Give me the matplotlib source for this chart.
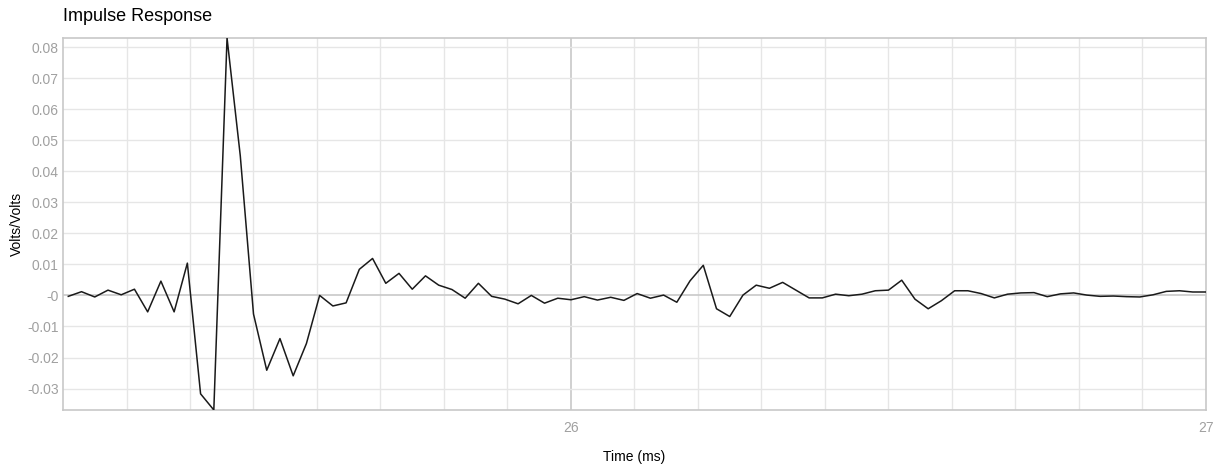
import numpy as np
import matplotlib
matplotlib.use("Agg")
import matplotlib.pyplot as plt

# impulse response samples, 48 kHz, sample 38 falls on 26 ms
fs_khz = 48.0
t_ref = 26.0
i_ref = 38
volts = np.array([
    -0.0003, 0.0012, -0.0005, 0.0017, 0.0002, 0.0020, -0.0053, 0.0046, -0.0053, 0.0104,
    -0.0317, -0.0369, 0.0829, 0.0450, -0.0060, -0.0241, -0.0139, -0.0259, -0.0155, 0.0000,
    -0.0034, -0.0024, 0.0084, 0.0119, 0.0039, 0.0071, 0.0020, 0.0063, 0.0033, 0.0019,
    -0.0009, 0.0039, -0.0003, -0.0012, -0.0027, 0.0000, -0.0025, -0.0009, -0.0014, -0.0004,
    -0.0015, -0.0006, -0.0016, 0.0006, -0.0009, 0.0001, -0.0022, 0.0047, 0.0097, -0.0043,
    -0.0068, 0.0001, 0.0033, 0.0023, 0.0042, 0.0017, -0.0008, -0.0008, 0.0004, -0.0001,
    0.0004, 0.0015, 0.0017, 0.0049, -0.0012, -0.0043, -0.0017, 0.0015, 0.0015, 0.0006,
    -0.0008, 0.0004, 0.0008, 0.0009, -0.0004, 0.0005, 0.0008, 0.0001, -0.0003, -0.0002,
    -0.0004, -0.0005, 0.0002, 0.0013, 0.0015, 0.0011, 0.0011,
])
time_ms = t_ref + (np.arange(len(volts)) - i_ref) / fs_khz

x_major = [26, 27]
x_major_labels = ["26", "27"]
y_ticks = [-0.03, -0.02, -0.01, 0.0, 0.01, 0.02, 0.03, 0.04, 0.05, 0.06, 0.07, 0.08]
y_labels = ["-0.03", "-0.02", "-0.01", "-0", "0.01", "0.02", "0.03", "0.04",
            "0.05", "0.06", "0.07", "0.08"]

plt.rcParams["font.family"] = ["Liberation Sans", "DejaVu Sans"]

fig = plt.figure(figsize=(12.21, 4.70), dpi=100)
ax = fig.add_axes([0.0516, 0.1277, 0.9361, 0.7914])

minor_col = "#e6e6e6"
major_col = "#c8c8c8"

# grid lines
for x in np.arange(25.3, 27.0, 0.1):
    if abs(x - 26) > 1e-6:
        ax.axvline(x, color=minor_col, lw=1, zorder=0)
ax.axvline(26, color=major_col, lw=1.2, zorder=0)
for y in y_ticks:
    if y != 0:
        ax.axhline(y, color=minor_col, lw=1, zorder=0)
ax.axhline(0, color=major_col, lw=1.2, zorder=0)

ax.plot(time_ms, volts, color="#1a1a1a", lw=1.1, zorder=3)

ax.set_xlim(25.2, 27.0)
ax.set_ylim(volts.min(), volts.max())

ax.set_xticks(x_major)
ax.set_xticklabels(x_major_labels)
ax.set_yticks(y_ticks)
ax.set_yticklabels(y_labels)
ax.tick_params(length=0, colors="#a0a0a0", labelsize=10)
ax.tick_params(axis="x", pad=8)
ax.tick_params(axis="y", pad=3)

for s in ax.spines.values():
    s.set_color(major_col)
    s.set_linewidth(1.2)

ax.set_xlabel("Time (ms)", fontsize=10, color="black", labelpad=11)
ax.set_ylabel("Volts/Volts", fontsize=10, color="black", labelpad=2)
fig.text(0.0516, 0.964, "Impulse Response", fontsize=13, ha="left", va="center")

fig.savefig("out.png", dpi=100)
